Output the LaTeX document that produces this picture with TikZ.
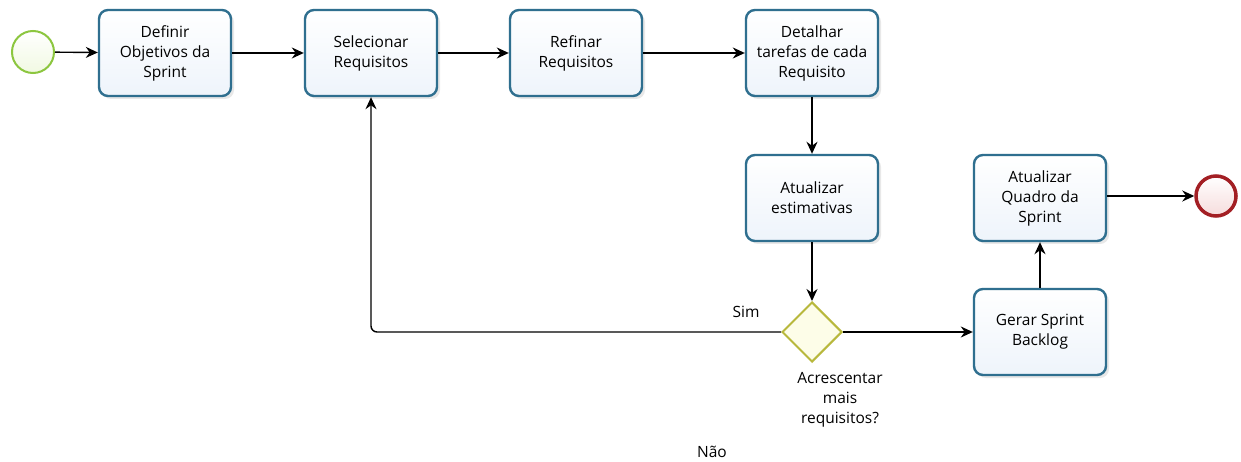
\documentclass[tikz,border=0pt]{standalone}
\usepackage{fontspec}
\setmainfont{Open Sans}
\usetikzlibrary{arrows.meta,shapes.geometric,shadows,calc}
\definecolor{taskline}{HTML}{2F6F8F}
\definecolor{taskfill}{HTML}{EEF4FB}
\definecolor{startline}{HTML}{8CC63F}
\definecolor{startfill}{HTML}{F1F9E2}
\definecolor{endline}{HTML}{A31F24}
\definecolor{endfill}{HTML}{F6DCDC}
\definecolor{gateline}{HTML}{B8B83C}
\definecolor{gatefill}{HTML}{FDFDE8}
\tikzset{
  task/.style={draw=taskline, line width=2.4pt, rounded corners=9pt,
    top color=white, bottom color=taskfill,
    minimum width=132pt, minimum height=86pt, align=center,
    font=\fontsize{15.5}{20}\selectfont,
    drop shadow={shadow xshift=3pt, shadow yshift=-3pt, fill=black!35, opacity=0.25}},
  startev/.style={circle, draw=startline, line width=2pt, top color=white,
    bottom color=startfill, minimum size=42pt, inner sep=0pt},
  endev/.style={circle, draw=endline, line width=3.5pt, top color=white,
    bottom color=endfill, minimum size=40pt, inner sep=0pt},
  gate/.style={diamond, draw=gateline, line width=2pt, fill=gatefill,
    minimum width=60pt, minimum height=60pt, inner sep=0pt, aspect=1},
  flow/.style={draw=black, line width=1.4pt, -{Stealth[length=12pt,width=11pt]}},
  lbl/.style={font=\fontsize{15.5}{20}\selectfont, align=center}
}
\begin{document}
\begin{tikzpicture}[x=1pt, y=-1pt]
\useasboundingbox (0,0) rectangle (1241,462);
\fill[white] (0,0) rectangle (1241,462);

\node[startev] (start) at (33,52) {};
\node[task] (t1) at (165,53) {Definir\\Objetivos da\\Sprint};
\node[task] (t2) at (371,53) {Selecionar\\Requisitos};
\node[task] (t3) at (576,53) {Refinar\\Requisitos};
\node[task] (t4) at (812,53) {Detalhar\\tarefas de cada\\Requisito};
\node[task] (t5) at (812,198) {Atualizar\\estimativas};
\node[gate] (g) at (812,332) {};
\node[task] (t6) at (1040,332) {Gerar Sprint\\Backlog};
\node[task] (t7) at (1040,198) {Atualizar\\Quadro da\\Sprint};
\node[endev] (end) at (1216,196) {};

\node[lbl] (gq) at (840,400) {Acrescentar\\mais\\requisitos?};
\node[lbl] (sim) at (746,312) {Sim};
\node[lbl] (nao) at (712,452) {Não};

\draw[flow] (start) -- (t1);
\draw[flow] (t1) -- (t2);
\draw[flow] (t2) -- (t3);
\draw[flow] (t3) -- (t4);
\draw[flow] (t4) -- (t5);
\draw[flow] (t5) -- (g);
\draw[flow, rounded corners=6pt] (g.west) -| (t2.south);
\draw[flow] (g.east) -- (t6.west);
\draw[flow] (t6) -- (t7);
\draw[flow] (t7.east |- end) -- (end);
\end{tikzpicture}
\end{document}
